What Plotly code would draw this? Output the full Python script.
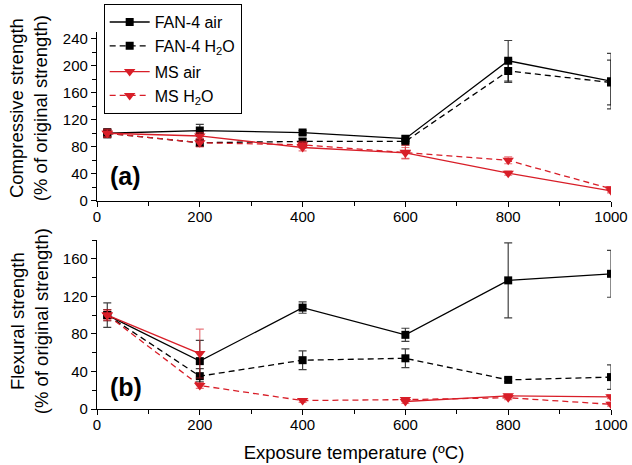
import plotly.graph_objects as go

# ---------------- data ----------------
temps = [20, 200, 400, 600, 800, 1000]

# Compressive strength (% of original)
fan_air_c = [100, 104, 101, 92, 207, 177]
fan_air_c_err = [7, 9, 3, 4, 30, 41]
fan_h2o_c = [100, 86, 88, 88, 192, 175]
fan_h2o_c_err = [6, 5, 4, 3, 17, 33]
ms_air_c = [100, 96, 79, 71, 41, 15]
ms_air_c_err = [6, 5, 5, 8, 3, 3]
ms_h2o_c = [100, 86, 83, 72, 60, 18]
ms_h2o_c_err = [5, 6, 5, 10, 5, 3]

# Flexural strength (% of original)
fan_air_f = [100, 51, 108, 79, 137, 144]
fan_air_f_err = [13, 22, 6, 7, 40, 25]
fan_h2o_f = [100, 35, 52, 54, 31, 34]
fan_h2o_f_err = [6, 8, 10, 10, 2, 13]
ms_air_f = [100, 59, None, 8, 14, 13]
ms_air_f_err = [6, 26, 0, 2, 2, 2]
ms_h2o_f = [100, 25, 9, 10, 12, 5]
ms_h2o_f_err = [5, 3, 2, 2, 2, 2]

series_names = ["FAN-4 air", "FAN-4 H<sub>2</sub>O", "MS air", "MS H<sub>2</sub>O"]
x_ticks = [0, 200, 400, 600, 800, 1000]

# ---------------- styles ----------------
BLACK = "#000000"
RED = "#d81e28"
FONT = "Liberation Sans, Arial, sans-serif"

styles = [
    dict(color=BLACK, dash="solid", symbol="square", size=8, ecol="rgba(0,0,0,0.75)", grp="fan"),
    dict(color=BLACK, dash="6px,4px", symbol="square", size=8, ecol="rgba(0,0,0,0.75)", grp="fan"),
    dict(color=RED, dash="solid", symbol="triangle-down", size=10, ecol="rgba(216,30,40,0.6)", grp="ms"),
    dict(color=RED, dash="6px,4px", symbol="triangle-down", size=10, ecol="rgba(216,30,40,0.6)", grp="ms"),
]

comp = [(fan_air_c, fan_air_c_err), (fan_h2o_c, fan_h2o_c_err),
        (ms_air_c, ms_air_c_err), (ms_h2o_c, ms_h2o_c_err)]
flex = [(fan_air_f, fan_air_f_err), (fan_h2o_f, fan_h2o_f_err),
        (ms_air_f, ms_air_f_err), (ms_h2o_f, ms_h2o_f_err)]

fig = go.Figure()

for data, xa, ya, show in [(comp, "x", "y", True), (flex, "x2", "y2", False)]:
    for i, ((vals, errs), st) in enumerate(zip(data, styles)):
        fig.add_trace(go.Scatter(
            x=temps, y=vals, name=series_names[i], xaxis=xa, yaxis=ya,
            legendgroup=st["grp"],
            mode="lines+markers", showlegend=show, connectgaps=False,
            line=dict(color=st["color"], width=1.3, dash=st["dash"]),
            marker=dict(color=st["color"], symbol=st["symbol"], size=st["size"],
                        line=dict(width=0)),
            error_y=dict(type="data", array=errs, visible=True,
                         color=st["ecol"], thickness=1.2, width=4),
        ))

axis_common = dict(
    showgrid=False, zeroline=False, showline=True, linecolor="black", linewidth=1.2,
    ticks="outside", ticklen=5, tickwidth=1.2, tickcolor="black", automargin=False,
    tickfont=dict(family=FONT, size=15, color="black"),
)
minor_common = dict(ticks="outside", ticklen=4, tickwidth=1.2, tickcolor="black")

x_common = dict(axis_common, range=[0, 1000], tickvals=x_ticks, ticklabelstandoff=-3,
                minor=dict(minor_common, dtick=100, tick0=0))

# plot area spans y = 0..409 px (t=0, b=56)
top_dom = [0.5086, 0.9225]
bot_dom = [0.0, 0.4132]

fig.update_layout(
    template="none",
    width=632, height=465, autosize=False,
    margin=dict(l=97, r=21, t=0, b=56, pad=0),
    paper_bgcolor="white", plot_bgcolor="white",
    font=dict(family=FONT, size=15, color="black"),
    xaxis=dict(x_common, domain=[0, 1], anchor="y"),
    yaxis=dict(axis_common, domain=top_dom, anchor="x", range=[0, 250], dtick=40, tick0=0,
               minor=dict(minor_common, dtick=20, tick0=0)),
    xaxis2=dict(x_common, domain=[0, 1], anchor="y2",
                title=dict(text="Exposure temperature (ºC)",
                           font=dict(family=FONT, size=18.5, color="black"), standoff=13)),
    yaxis2=dict(axis_common, domain=bot_dom, anchor="x2", range=[0, 180], dtick=40, tick0=0,
                minor=dict(minor_common, dtick=20, tick0=0)),
    legend=dict(x=0.013, y=0.990, xanchor="left", yanchor="top",
                bordercolor="black", borderwidth=1, bgcolor="white",
                font=dict(family=FONT, size=16, color="black"), tracegroupgap=2,
                itemwidth=40),
    showlegend=True,
)

annots = [
    dict(text="Compressive strength<br>(% of original strength)", xref="paper", yref="paper",
         x=-0.132, y=0.736, textangle=-90, showarrow=False,
         xanchor="center", yanchor="middle", font=dict(family=FONT, size=18.5, color="black")),
    dict(text="Flexural strength<br>(% of original strength)", xref="paper", yref="paper",
         x=-0.132, y=0.215, textangle=-90, showarrow=False,
         xanchor="center", yanchor="middle", font=dict(family=FONT, size=18.5, color="black")),
    dict(text="<b>(a)</b>", xref="paper", yref="paper", x=0.021, y=0.5697,
         xanchor="left", yanchor="middle", showarrow=False, font=dict(family=FONT, size=25, color="black")),
    dict(text="<b>(b)</b>", xref="paper", yref="paper", x=0.021, y=0.0538,
         xanchor="left", yanchor="middle", showarrow=False, font=dict(family=FONT, size=25, color="black")),
]
fig.update_layout(annotations=annots)

fig.write_html("out.html")
